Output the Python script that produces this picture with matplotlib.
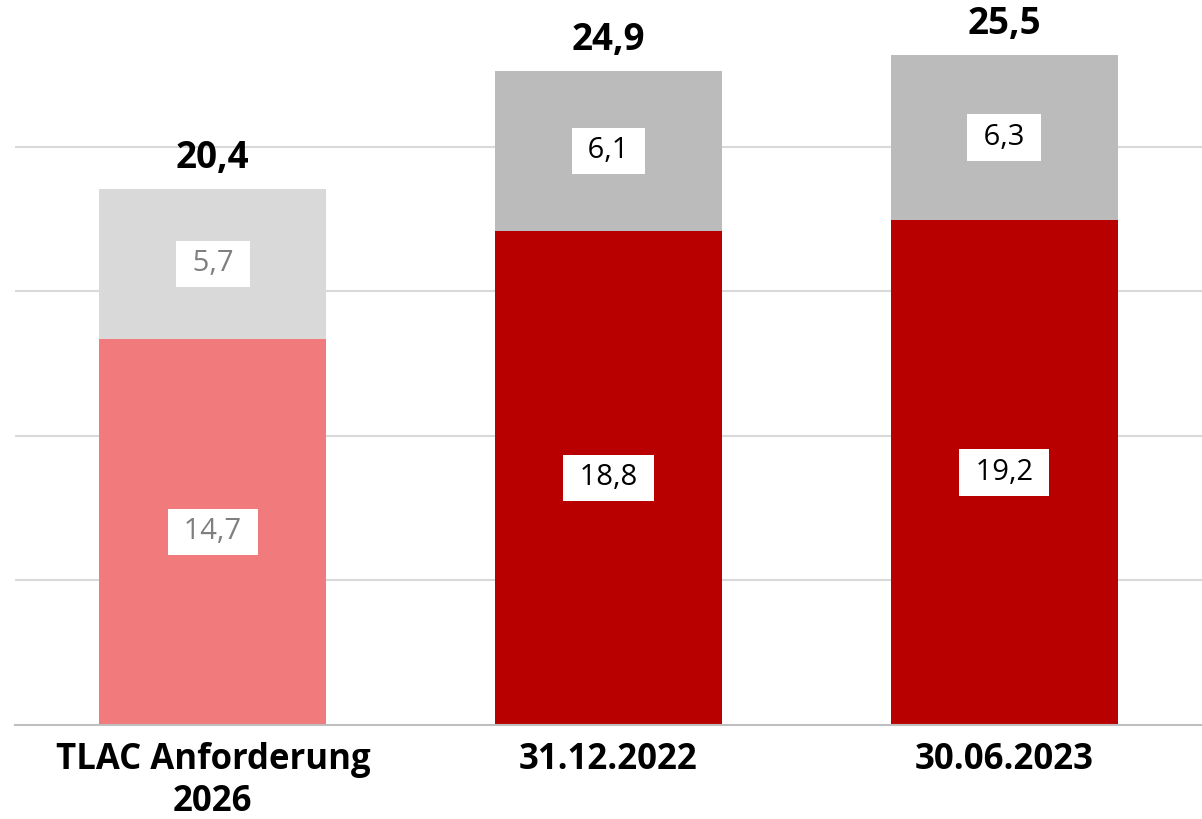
import matplotlib
matplotlib.use("Agg")
import matplotlib.pyplot as plt
import numpy as np

categories = ["TLAC Anforderung\n2026", "31.12.2022", "30.06.2023"]
bottom_vals = [14.7, 18.8, 19.2]
top_vals = [5.7, 6.1, 6.3]
totals = [20.4, 24.9, 25.5]
bottom_colors = ["#F07A7C", "#B80000", "#B80000"]
top_colors = ["#D9D9D9", "#BBBBBB", "#BBBBBB"]
label_colors = ["#7F7F7F", "#000000", "#000000"]
grid_ticks = [5.5, 11, 16.5, 22]

def fmt(v):
    return f"{v:.1f}".replace(".", ",")

plt.rcParams['font.family'] = ['Open Sans', 'DejaVu Sans']

fig = plt.figure(figsize=(12.02, 8.19), dpi=100)
ax = fig.add_axes([15/1202, (819-725)/819, 1187/1202, 725/819])

x = np.arange(len(categories))
w = 0.574
ax.bar(x, bottom_vals, width=w, color=bottom_colors, zorder=3)
ax.bar(x, top_vals, width=w, bottom=bottom_vals, color=top_colors, zorder=3)

for i in range(len(categories)):
    ax.text(x[i], bottom_vals[i] / 2, " " + fmt(bottom_vals[i]) + " ", ha="center", va="center",
            fontsize=21, color=label_colors[i], zorder=5,
            bbox=dict(boxstyle="square,pad=0.3", fc="white", ec="none"))
    ax.text(x[i], bottom_vals[i] + top_vals[i] / 2, " " + fmt(top_vals[i]) + " ", ha="center", va="center",
            fontsize=21, color=label_colors[i], zorder=5,
            bbox=dict(boxstyle="square,pad=0.3", fc="white", ec="none"))
    ax.annotate(fmt(totals[i]), xy=(x[i], bottom_vals[i] + top_vals[i]), xytext=(0, 15),
                textcoords="offset points", ha="center", va="baseline",
                fontsize=26.5, fontweight="bold", color="black", zorder=5)

ax.set_xlim(-0.5, 2.5)
ax.set_ylim(0, 27.59)
ax.set_yticks(grid_ticks)
ax.yaxis.grid(True, color="#D9D9D9", linewidth=1.5, zorder=0)
ax.tick_params(axis="y", left=False, labelleft=False)
ax.set_xticks(x)
ax.set_xticklabels(categories, fontsize=25, fontweight="bold", linespacing=1.25)
ax.tick_params(axis="x", length=0, pad=12)
for s in ["top", "right", "left"]:
    ax.spines[s].set_visible(False)
ax.spines["bottom"].set_color("#BFBFBF")
ax.spines["bottom"].set_linewidth(1.5)
ax.spines["bottom"].set_zorder(4)

fig.savefig("out.png", dpi=100)
